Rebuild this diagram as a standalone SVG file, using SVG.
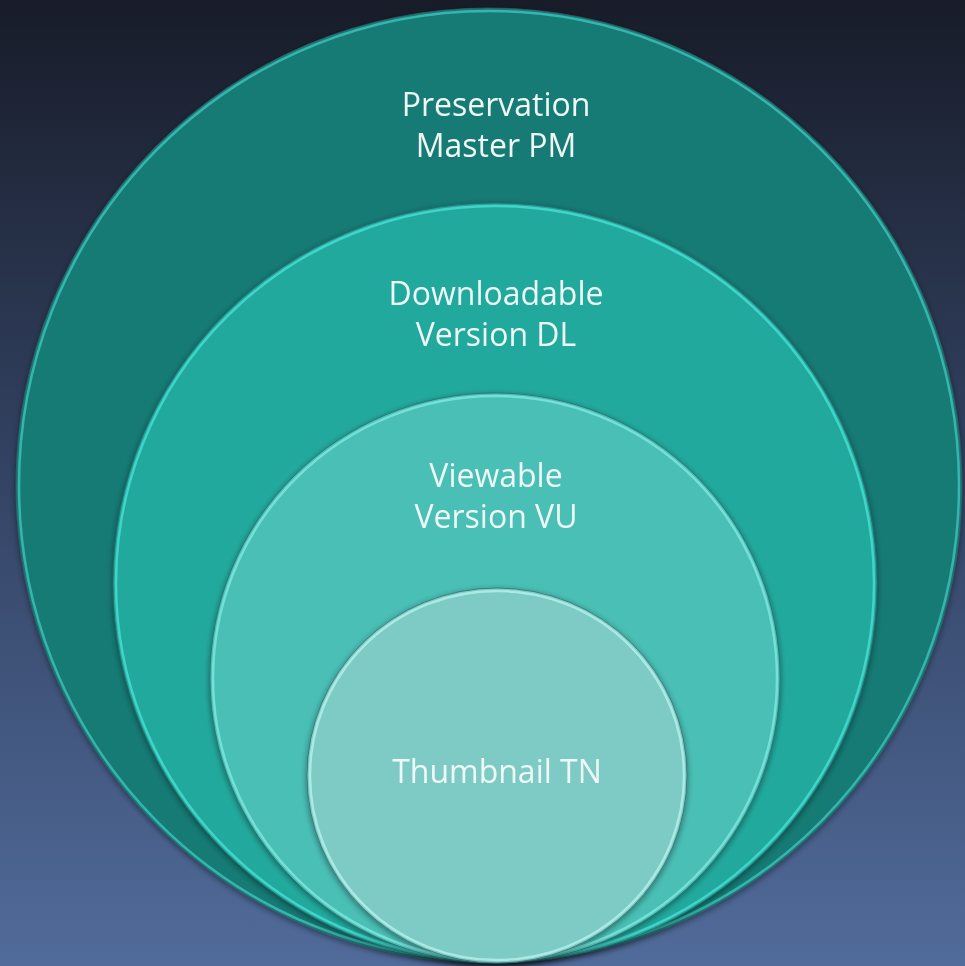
<svg xmlns="http://www.w3.org/2000/svg" width="965" height="966" viewBox="0 0 965 966">
<defs>
<linearGradient id="bg" x1="0" y1="0" x2="0" y2="1">
<stop offset="0" stop-color="#181c29"/>
<stop offset="0.5" stop-color="#344465"/>
<stop offset="1" stop-color="#516b9a"/>
</linearGradient>
<filter id="sh" x="-10%" y="-10%" width="120%" height="120%">
<feGaussianBlur in="SourceAlpha" stdDeviation="3"/>
<feOffset dx="0" dy="2" result="b"/>
<feComponentTransfer><feFuncA type="linear" slope="0.45"/></feComponentTransfer>
<feMerge><feMergeNode/><feMergeNode in="SourceGraphic"/></feMerge>
</filter>
<style>
.lbl{font-family:"Open Sans","Lato","Liberation Sans",sans-serif;font-size:32px;fill:#eef8f6;text-anchor:middle}
.rim{fill:none;stroke-width:2.5}
.edge{fill:none;stroke:#2f5f66;stroke-width:1;stroke-opacity:0.7}
</style>
</defs>
<rect width="965" height="966" fill="url(#bg)"/>
<g id="pm" filter="url(#sh)">
<ellipse cx="489" cy="485.5" rx="473" ry="477.5" fill="#197a75"/>
<ellipse cx="489" cy="485.5" rx="470" ry="474.5" class="rim" stroke="#3fc9c0" stroke-opacity="0.75"/>
<ellipse cx="489" cy="485.5" rx="473" ry="477.5" class="edge"/>
<text class="lbl" x="496" y="116">Preservation</text>
<text class="lbl" x="496" y="157">Master PM</text>
</g>
<g id="dl" filter="url(#sh)">
<ellipse cx="495" cy="583" rx="382" ry="380" fill="#22a99d"/>
<ellipse cx="495" cy="583" rx="379" ry="377" class="rim" stroke="#47e0d5" stroke-opacity="0.8"/>
<ellipse cx="495" cy="583" rx="382" ry="380" class="edge"/>
<text class="lbl" x="496" y="305">Downloadable</text>
<text class="lbl" x="496" y="346">Version DL</text>
</g>
<g id="vu" filter="url(#sh)">
<ellipse cx="495" cy="678" rx="285" ry="285" fill="#4abfb5"/>
<ellipse cx="495" cy="678" rx="282" ry="282" class="rim" stroke="#7ee9e1" stroke-opacity="0.8"/>
<ellipse cx="495" cy="678" rx="285" ry="285" class="edge"/>
<text class="lbl" x="496" y="487">Viewable</text>
<text class="lbl" x="496" y="528">Version VU</text>
</g>
<g id="tn" filter="url(#sh)">
<ellipse cx="497" cy="775.5" rx="190" ry="187.5" fill="#7ecac4"/>
<ellipse cx="497" cy="775.5" rx="187" ry="184.5" class="rim" stroke="#b4f2ec" stroke-opacity="0.8"/>
<ellipse cx="497" cy="775.5" rx="190" ry="187.5" class="edge"/>
<text class="lbl" x="497" y="783">Thumbnail TN</text>
</g>
<g id="connectors"/>
</svg>
